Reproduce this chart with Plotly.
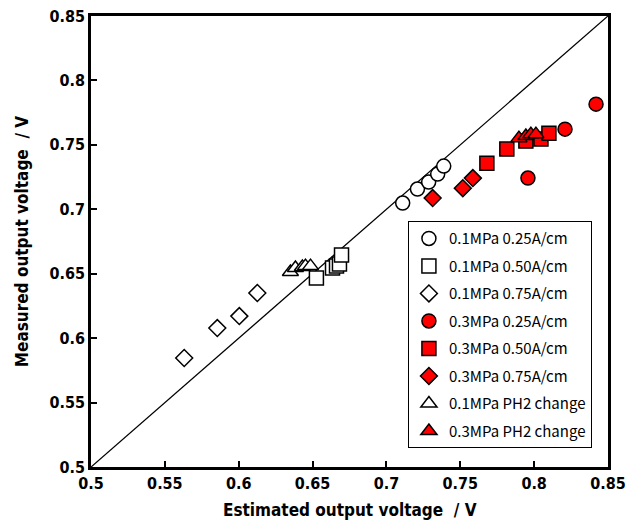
import plotly.graph_objects as go

# Data (estimated output voltage, measured output voltage)
c01_025_x = [0.711, 0.721, 0.7286, 0.7347, 0.7388]
c01_025_y = [0.7048, 0.7157, 0.7211, 0.7273, 0.7335]

c01_050_x = [0.6526, 0.6635, 0.6662, 0.6682, 0.6696]
c01_050_y = [0.6466, 0.6544, 0.6559, 0.6575, 0.6645]

c01_075_x = [0.5631, 0.5855, 0.6004, 0.6126]
c01_075_y = [0.5846, 0.6078, 0.6171, 0.6350]

c03_025_x = [0.7958, 0.8209, 0.8419]
c03_025_y = [0.7242, 0.7622, 0.7816]

c03_050_x = [0.7680, 0.7815, 0.7944, 0.8046, 0.8100]
c03_050_y = [0.7358, 0.7467, 0.7529, 0.7545, 0.7591]

c03_075_x = [0.7313, 0.7517, 0.7585]
c03_075_y = [0.7087, 0.7164, 0.7242]

ph01_x = [0.635, 0.6384, 0.6431, 0.6452, 0.6486]
ph01_y = [0.6513, 0.6544, 0.6552, 0.6559, 0.6559]

ph03_x = [0.7897, 0.7944, 0.7978, 0.8012]
ph03_y = [0.7552, 0.7568, 0.7583, 0.7583]

diag = [0.5, 0.85]

tick_vals = [0.5, 0.55, 0.6, 0.65, 0.7, 0.75, 0.8, 0.85]
tick_text = ["0.5", "0.55", "0.6", "0.65", "0.7", "0.75", "0.8", "0.85"]

x_title = "Estimated output voltage  / V"
y_title = "Measured output voltage  / V"

fig = go.Figure()

fig.add_trace(go.Scatter(x=diag, y=diag, mode="lines",
                         line=dict(color="black", width=1.3),
                         showlegend=False, hoverinfo="skip"))

series = [
    ("0.1MPa 0.25A/cm", c01_025_x, c01_025_y, "circle", "white", 14),
    ("0.1MPa 0.50A/cm", c01_050_x, c01_050_y, "square", "white", 14),
    ("0.1MPa 0.75A/cm", c01_075_x, c01_075_y, "diamond", "white", 13),
    ("0.3MPa 0.25A/cm", c03_025_x, c03_025_y, "circle", "red", 14),
    ("0.3MPa 0.50A/cm", c03_050_x, c03_050_y, "square", "red", 14),
    ("0.3MPa 0.75A/cm", c03_075_x, c03_075_y, "diamond", "red", 13),
    ("0.1MPa PH2 change", ph01_x, ph01_y, "triangle-up", "white", 14),
    ("0.3MPa PH2 change", ph03_x, ph03_y, "triangle-up", "red", 14),
]

for name, xs, ys, sym, col, sz in series:
    fig.add_trace(go.Scatter(
        x=xs, y=ys, mode="markers", name=name, legendgroup=name,
        marker=dict(symbol=sym, size=sz, color=col,
                    line=dict(color="black", width=1.5)),
    ))

axis_font = dict(family="DejaVu Sans Condensed, Liberation Sans Narrow, sans-serif",
                 size=16, color="black", weight="bold")
title_font = dict(family="DejaVu Sans Condensed, Liberation Sans Narrow, sans-serif",
                  size=17, color="black", weight="bold")

common = dict(range=[0.5, 0.85], tickmode="array", tickvals=tick_vals, ticktext=tick_text,
              ticks="inside", ticklen=6, tickwidth=1.5, tickcolor="black",
              showline=True, linewidth=2.5, linecolor="black", mirror=True,
              showgrid=False, zeroline=False, tickfont=axis_font, automargin=False)

fig.update_xaxes(**common)
fig.update_yaxes(**common)

fig.add_annotation(text=x_title, xref="paper", yref="paper", x=0.5, y=-0.095,
                   xanchor="center", yanchor="middle", showarrow=False, font=title_font)
fig.add_annotation(text=y_title, xref="paper", yref="paper", x=-0.134, y=0.5,
                   xanchor="center", yanchor="middle", textangle=-90, showarrow=False,
                   font=title_font)

fig.update_layout(
    width=635, height=526,
    margin=dict(l=91, r=27, t=16, b=59),
    paper_bgcolor="white", plot_bgcolor="white",
    legend=dict(x=0.613, y=0.545, xanchor="left", yanchor="top",
                bgcolor="white", bordercolor="black", borderwidth=1,
                font=dict(family="Noto Sans CJK JP, Noto Sans, sans-serif", size=15, color="black"),
                tracegroupgap=5, itemwidth=30),
)

fig.write_html("out.html")
